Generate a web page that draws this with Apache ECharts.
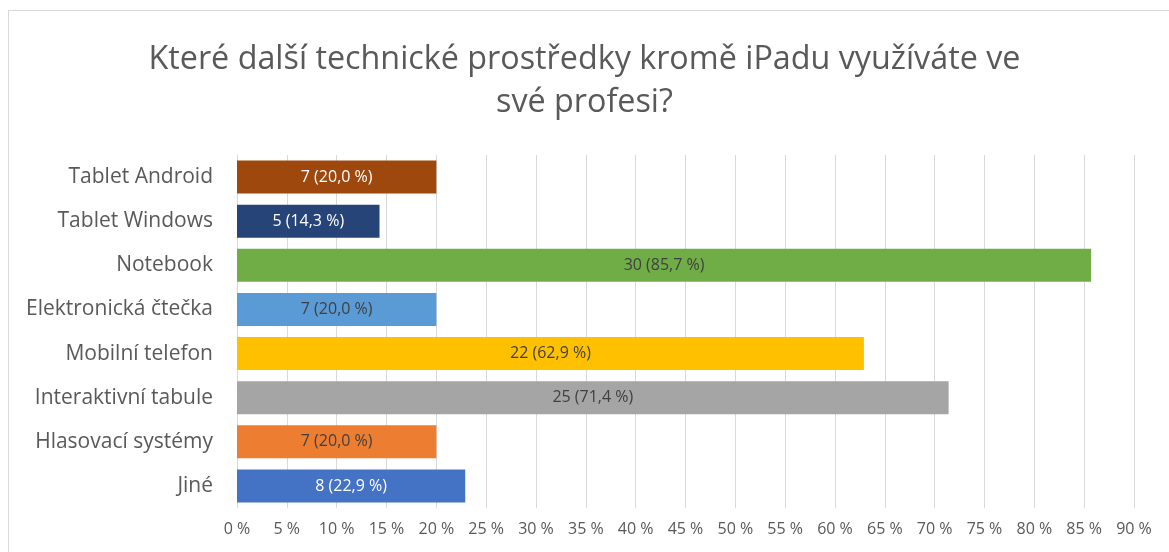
<!DOCTYPE html>
<html>
<head>
<meta charset="utf-8">
<script src="https://cdn.jsdelivr.net/npm/echarts@6/dist/echarts.min.js"></script>
<style>
	html, body { margin: 0; padding: 0; background: #fff; }
	#frame { position: absolute; left: 8px; top: 10px; width: 1300px; height: 700px; border-left: 1px solid #d9d9d9; border-top: 1px solid #d9d9d9; }
	#main { position: absolute; left: 0; top: 0; width: 1169px; height: 552px; }
</style>
</head>
<body>
<div id="frame"></div>
<div id="main"></div>
<script>
// kategorie a hodnoty
var categories = ['Tablet Android', 'Tablet Windows', 'Notebook', 'Elektronická čtečka', 'Mobilní telefon', 'Interaktivní tabule', 'Hlasovací systémy', 'Jiné'];
var counts = [7, 5, 30, 7, 22, 25, 7, 8];
var percents = [20.0, 14.3, 85.7, 20.0, 62.9, 71.4, 20.0, 22.9];
var barColors = ['#9E480E', '#264478', '#70AD47', '#5B9BD5', '#FFC000', '#A5A5A5', '#ED7D31', '#4472C4'];
var labelColors = ['#ffffff', '#ffffff', '#404040', '#404040', '#404040', '#404040', '#404040', '#ffffff'];

var font = '"Open Sans", "Noto Sans", sans-serif';

var myChart = echarts.init(document.getElementById('main'));

var items = [];
for (var i = 0; i < categories.length; i++) {
	items.push({
		value: percents[i],
		itemStyle: { color: barColors[i] },
		label: { color: labelColors[i] }
	});
}

var option = {
	animation: false,
	title: {
		text: 'Které další technické prostředky kromě iPadu využíváte ve\nsvé profesi?',
		left: 'center',
		top: 33,
		textStyle: {
			fontFamily: font,
			fontSize: 32.3,
			fontWeight: 'normal',
			color: '#595959',
			lineHeight: 43
		}
	},
	grid: {
		left: 237,
		right: 35,
		top: 155,
		bottom: 44,
		containLabel: false
	},
	xAxis: {
		type: 'value',
		min: 0,
		max: 90,
		interval: 5,
		axisLine: { show: false },
		axisTick: { show: false },
		splitLine: { lineStyle: { color: '#d9d9d9', width: 1 } },
		axisLabel: {
			formatter: '{value} %',
			fontFamily: font,
			fontSize: 16,
			color: '#595959',
			margin: 13
		}
	},
	yAxis: {
		type: 'category',
		inverse: true,
		data: categories,
		axisLine: { show: true, lineStyle: { color: '#d9d9d9' } },
		axisTick: { show: false },
		axisLabel: {
			fontFamily: font,
			fontSize: 21,
			color: '#595959',
			margin: 24
		}
	},
	series: [{
		type: 'bar',
		data: items,
		barCategoryGap: '25%',
		label: {
			show: true,
			position: 'inside',
			fontFamily: font,
			fontSize: 16,
			formatter: function(p) {
				return counts[p.dataIndex] + ' (' + percents[p.dataIndex].toFixed(1).replace('.', ',') + ' %)';
			}
		}
	}]
};

myChart.setOption(option);
</script>
</body>
</html>
